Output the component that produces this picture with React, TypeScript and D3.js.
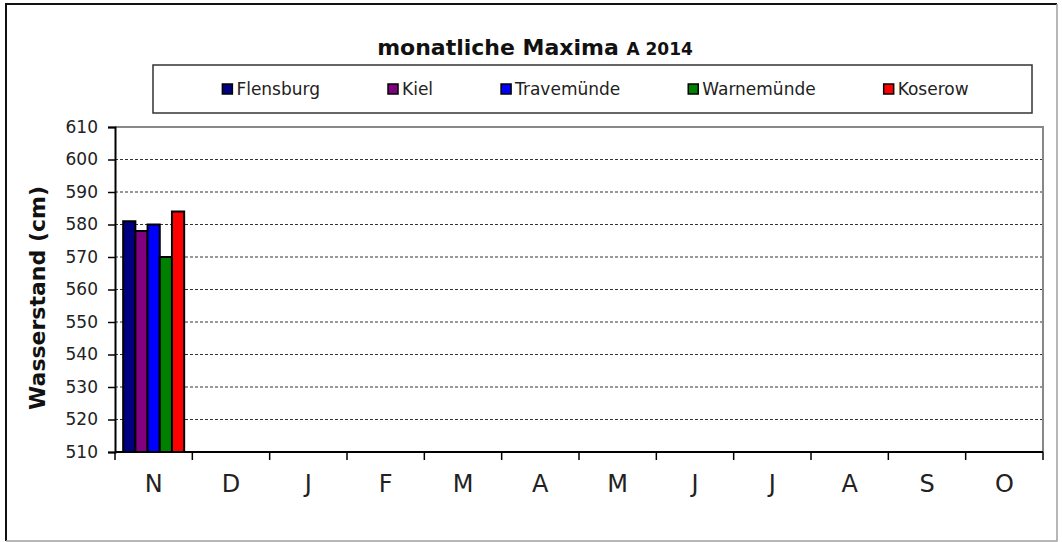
import * as d3 from 'd3';
import React, { useEffect, useRef } from 'react';

// months, Nov 2014 .. Oct 2015
const months = ['N', 'D', 'J', 'F', 'M', 'A', 'M', 'J', 'J', 'A', 'S', 'O'];
const stations = ['Flensburg', 'Kiel', 'Travemünde', 'Warnemünde', 'Koserow'];
const colors = ['#000080', '#800080', '#0000ff', '#008000', '#ff0000'];
// only November has values so far
const maxima: (number | null)[][] = [
  [581, 578, 580, 570, 584],
  [null, null, null, null, null],
  [null, null, null, null, null],
  [null, null, null, null, null],
  [null, null, null, null, null],
  [null, null, null, null, null],
  [null, null, null, null, null],
  [null, null, null, null, null],
  [null, null, null, null, null],
  [null, null, null, null, null],
  [null, null, null, null, null],
  [null, null, null, null, null],
];
const yTicks = [510, 520, 530, 540, 550, 560, 570, 580, 590, 600, 610];

const FONT = '"DejaVu Sans", Arial, sans-serif';

export default function App() {
  const ref = useRef<SVGSVGElement>(null);

  useEffect(() => {
    const svg = d3.select(ref.current);
    svg.selectAll('*').remove();
    const W = 1062, H = 542;
    const plot = { left: 115, right: 1043, top: 127, bottom: 452 };

    // outer frame
    svg.append('rect').attr('x', 0).attr('y', 0).attr('width', W).attr('height', H).attr('fill', '#fff');
    svg.append('path').attr('d', `M6,541V4H1057`).attr('fill', 'none').attr('stroke', '#111').attr('stroke-width', 2);
    svg.append('path').attr('d', `M1057,4V541H6`).attr('fill', 'none').attr('stroke', '#a0a0a0').attr('stroke-width', 1.5);

    // title
    const title = svg.append('text')
      .attr('x', 535).attr('y', 55)
      .attr('text-anchor', 'middle')
      .style('font-family', FONT).style('font-weight', 'bold').style('fill', '#111');
    title.append('tspan').style('font-size', '22px').text('monatliche Maxima ');
    title.append('tspan').style('font-size', '17px').text('A 2014');

    // legend
    const lg = { x: 153, y: 65, w: 879, h: 48 };
    svg.append('rect')
      .attr('x', lg.x).attr('y', lg.y).attr('width', lg.w).attr('height', lg.h)
      .attr('fill', '#fff').attr('stroke', '#333').attr('stroke-width', 1.5);
    const items = svg.append('g');
    const entries = items.selectAll('g').data(stations).enter().append('g');
    entries.append('rect')
      .attr('x', 0).attr('y', -5).attr('width', 10).attr('height', 10)
      .attr('fill', (d, i) => colors[i]).attr('stroke', '#000').attr('stroke-width', 1.5);
    entries.append('text')
      .attr('x', 14).attr('y', 6)
      .style('font-family', FONT).style('font-size', '17px').style('fill', '#222')
      .text(d => d);
    const gap = 68;
    const widths: number[] = [];
    entries.each(function () {
      const t = d3.select(this).select('text').node() as SVGTextElement;
      widths.push(14 + t.getComputedTextLength());
    });
    const total = d3.sum(widths) + gap * (stations.length - 1);
    let cx = lg.x + lg.w / 2 + 3 - total / 2;
    entries.attr('transform', (d, i) => {
      const tx = cx;
      cx += widths[i] + gap;
      return `translate(${tx},${lg.y + lg.h / 2})`;
    });

    // scales
    const x = d3.scaleBand<number>().domain(d3.range(months.length)).range([plot.left, plot.right]);
    const xs = d3.scaleBand<string>().domain(stations).range([0, x.bandwidth()]).paddingOuter(0.67);
    const y = d3.scaleLinear().domain([510, 610]).range([plot.bottom, plot.top]);

    // grid lines
    svg.append('g').selectAll('line')
      .data(yTicks.filter(t => t > 510 && t < 610)).enter().append('line')
      .attr('x1', plot.left).attr('x2', plot.right)
      .attr('y1', d => y(d)).attr('y2', d => y(d))
      .attr('stroke', '#333').attr('stroke-width', 1).attr('stroke-dasharray', '3,2');
    // plot border top & right
    svg.append('path')
      .attr('d', `M${plot.left},${y(610)}H${plot.right}V${plot.bottom}`)
      .attr('fill', 'none').attr('stroke', '#888').attr('stroke-width', 2);

    // bars
    const groups = svg.append('g').selectAll('g').data(maxima).enter().append('g')
      .attr('transform', (d, i) => `translate(${x(i)},0)`);
    groups.selectAll('rect')
      .data(d => d.map((v, j) => ({ v, j })).filter(e => e.v !== null))
      .enter().append('rect')
      .attr('x', e => xs(stations[e.j]) as number)
      .attr('width', xs.bandwidth())
      .attr('y', e => y(e.v as number))
      .attr('height', e => y(510) - y(e.v as number))
      .attr('fill', e => colors[e.j])
      .attr('stroke', '#000').attr('stroke-width', 2);

    // y axis
    const yAxis = svg.append('g')
      .attr('transform', `translate(${plot.left},0)`)
      .call(d3.axisLeft(y).tickValues(yTicks).tickSize(7).tickPadding(10).tickFormat(d3.format('d')));
    yAxis.select('.domain').attr('stroke', '#000').attr('stroke-width', 2);
    yAxis.selectAll('.tick line').attr('stroke', '#000').attr('stroke-width', 1.5);
    yAxis.selectAll('.tick text')
      .style('font-family', FONT).style('font-size', '17px').attr('fill', '#222');

    // x axis
    const xAxis = svg.append('g').attr('transform', `translate(0,${plot.bottom})`);
    xAxis.append('line')
      .attr('x1', plot.left).attr('x2', plot.right)
      .attr('stroke', '#000').attr('stroke-width', 2);
    xAxis.selectAll('line.tk')
      .data(d3.range(months.length + 1)).enter().append('line')
      .attr('class', 'tk')
      .attr('x1', i => plot.left + i * x.step()).attr('x2', i => plot.left + i * x.step())
      .attr('y1', 0).attr('y2', 8)
      .attr('stroke', '#000').attr('stroke-width', 1.5);
    xAxis.selectAll('text')
      .data(months).enter().append('text')
      .attr('x', (d, i) => (x(i) as number) + x.bandwidth() / 2)
      .attr('y', 40)
      .attr('text-anchor', 'middle')
      .style('font-family', FONT).style('font-size', '24px').style('fill', '#222')
      .text(d => d);

    // y title
    svg.append('text')
      .attr('transform', `translate(45,298) rotate(-90)`)
      .attr('text-anchor', 'middle')
      .style('font-family', FONT).style('font-size', '22px').style('font-weight', 'bold').style('fill', '#111')
      .text('Wasserstand (cm)');
  }, []);

  return (
    <svg ref={ref} width={1062} height={542} style={{ position: 'absolute', left: 0, top: 0 }} />
  );
}
